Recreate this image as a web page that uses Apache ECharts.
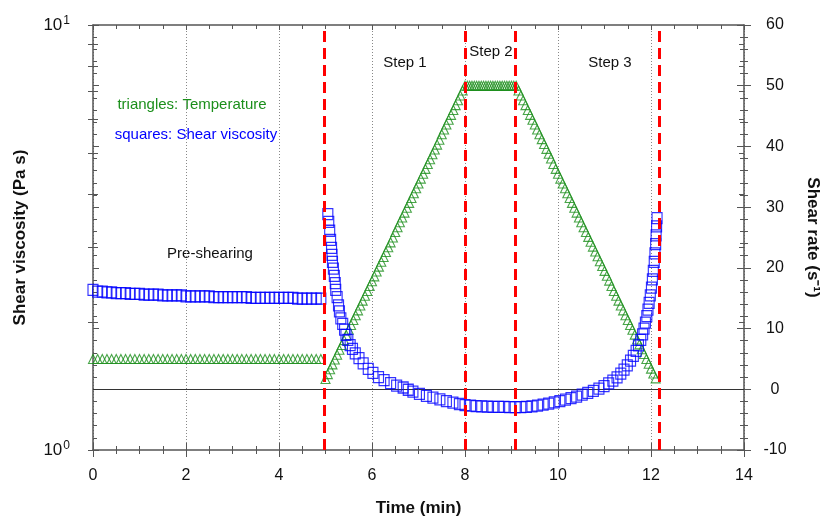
<!DOCTYPE html>
<html>
<head>
<meta charset="utf-8">
<title>Shear viscosity / shear rate vs time</title>
<script src="https://cdn.jsdelivr.net/npm/echarts@6/dist/echarts.min.js"></script>
<style>
    html, body { margin: 0; padding: 0; background: #fff; }
    #chart { width: 820px; height: 522px; }
</style>
</head>
<body>
<div id="chart"></div>
<script>
// [time (min), value]

// triangles (right axis, s^-1)
var tempPre = [
    [0.0, 5], [0.1, 5], [0.2, 5], [0.3, 5], [0.4, 5], [0.5, 5], [0.6, 5], [0.7, 5], [0.8, 5], [0.9, 5],
    [1.0, 5], [1.1, 5], [1.2, 5], [1.3, 5], [1.4, 5], [1.5, 5], [1.6, 5], [1.7, 5], [1.8, 5], [1.9, 5],
    [2.0, 5], [2.1, 5], [2.2, 5], [2.3, 5], [2.4, 5], [2.5, 5], [2.6, 5], [2.7, 5], [2.8, 5], [2.9, 5],
    [3.0, 5], [3.1, 5], [3.2, 5], [3.3, 5], [3.4, 5], [3.5, 5], [3.6, 5], [3.7, 5], [3.8, 5], [3.9, 5],
    [4.0, 5], [4.1, 5], [4.2, 5], [4.3, 5], [4.4, 5], [4.5, 5], [4.6, 5], [4.7, 5], [4.8, 5], [4.9, 5]
];
var tempUp = [
    [5.00, 1.7], [5.05, 2.5], [5.10, 3.3], [5.15, 4.1], [5.20, 4.9], [5.25, 5.7], [5.30, 6.5], [5.35, 7.3],
    [5.40, 8.1], [5.45, 8.9], [5.50, 9.8], [5.55, 10.6], [5.60, 11.4], [5.65, 12.2], [5.70, 13.0], [5.75, 13.8],
    [5.80, 14.6], [5.85, 15.4], [5.90, 16.2], [5.95, 17.0], [6.00, 17.8], [6.05, 18.6], [6.10, 19.4], [6.15, 20.2],
    [6.20, 21.0], [6.25, 21.8], [6.30, 22.6], [6.35, 23.4], [6.40, 24.2], [6.45, 25.0], [6.50, 25.9], [6.55, 26.7],
    [6.60, 27.5], [6.65, 28.3], [6.70, 29.1], [6.75, 29.9], [6.80, 30.7], [6.85, 31.5], [6.90, 32.3], [6.95, 33.1],
    [7.00, 33.9], [7.05, 34.7], [7.10, 35.5], [7.15, 36.3], [7.20, 37.1], [7.25, 37.9], [7.30, 38.7], [7.35, 39.5],
    [7.40, 40.3], [7.45, 41.1], [7.50, 42.0], [7.55, 42.8], [7.60, 43.6], [7.65, 44.4], [7.70, 45.2], [7.75, 46.0],
    [7.80, 46.8], [7.85, 47.6], [7.90, 48.4], [7.95, 49.2]
];
var tempHold = [
    [8.00, 50], [8.05, 50], [8.10, 50], [8.15, 50], [8.20, 50], [8.25, 50], [8.30, 50], [8.35, 50],
    [8.40, 50], [8.45, 50], [8.50, 50], [8.55, 50], [8.60, 50], [8.65, 50], [8.70, 50], [8.75, 50],
    [8.80, 50], [8.85, 50], [8.90, 50], [8.95, 50], [9.00, 50], [9.05, 50], [9.10, 50]
];
var tempDown = [
    [9.15, 49.2], [9.20, 48.4], [9.25, 47.6], [9.30, 46.8], [9.35, 46.0], [9.40, 45.2], [9.45, 44.4], [9.50, 43.6],
    [9.55, 42.8], [9.60, 42.0], [9.65, 41.2], [9.70, 40.4], [9.75, 39.6], [9.80, 38.8], [9.85, 38.0], [9.90, 37.1],
    [9.95, 36.3], [10.00, 35.5], [10.05, 34.7], [10.10, 33.9], [10.15, 33.1], [10.20, 32.3], [10.25, 31.5], [10.30, 30.7],
    [10.35, 29.9], [10.40, 29.1], [10.45, 28.3], [10.50, 27.5], [10.55, 26.7], [10.60, 25.9], [10.65, 25.1], [10.70, 24.3],
    [10.75, 23.5], [10.80, 22.7], [10.85, 21.9], [10.90, 21.1], [10.95, 20.3], [11.00, 19.5], [11.05, 18.7], [11.10, 17.9],
    [11.15, 17.0], [11.20, 16.2], [11.25, 15.4], [11.30, 14.6], [11.35, 13.8], [11.40, 13.0], [11.45, 12.2], [11.50, 11.4],
    [11.55, 10.6], [11.60, 9.8], [11.65, 9.0], [11.70, 8.2], [11.75, 7.4], [11.80, 6.6], [11.85, 5.8], [11.90, 5.0],
    [11.95, 4.2], [12.00, 3.4], [12.05, 2.6], [12.10, 1.8]
];

// squares (left log axis, Pa s)
var viscPre = [
    [0.0, 2.38], [0.1, 2.36], [0.2, 2.36], [0.3, 2.35], [0.4, 2.35], [0.5, 2.34], [0.6, 2.34], [0.7, 2.34], [0.8, 2.33], [0.9, 2.33],
    [1.0, 2.33], [1.1, 2.32], [1.2, 2.32], [1.3, 2.32], [1.4, 2.32], [1.5, 2.31], [1.6, 2.31], [1.7, 2.31], [1.8, 2.31], [1.9, 2.31],
    [2.0, 2.30], [2.1, 2.30], [2.2, 2.30], [2.3, 2.30], [2.4, 2.30], [2.5, 2.30], [2.6, 2.29], [2.7, 2.29], [2.8, 2.29], [2.9, 2.29],
    [3.0, 2.29], [3.1, 2.29], [3.2, 2.29], [3.3, 2.29], [3.4, 2.28], [3.5, 2.28], [3.6, 2.28], [3.7, 2.28], [3.8, 2.28], [3.9, 2.28],
    [4.0, 2.28], [4.1, 2.28], [4.2, 2.28], [4.3, 2.28], [4.4, 2.27], [4.5, 2.27], [4.6, 2.27], [4.7, 2.27], [4.8, 2.27], [4.9, 2.27]
];
var viscStep1 = [
    [5.05, 3.59], [5.07, 3.44], [5.09, 3.28], [5.11, 3.12], [5.13, 2.99], [5.14, 2.88], [5.15, 2.77], [5.17, 2.67],
    [5.19, 2.57], [5.21, 2.47], [5.22, 2.38], [5.25, 2.29], [5.28, 2.19], [5.30, 2.12], [5.33, 2.04], [5.37, 1.98],
    [5.41, 1.92], [5.44, 1.865], [5.48, 1.815], [5.53, 1.766], [5.58, 1.729], [5.64, 1.687], [5.72, 1.646], [5.81, 1.598],
    [5.92, 1.551], [6.02, 1.518], [6.14, 1.485], [6.26, 1.461], [6.40, 1.437], [6.53, 1.418], [6.67, 1.403], [6.78, 1.386],
    [6.88, 1.372], [7.02, 1.355], [7.17, 1.340], [7.31, 1.328], [7.46, 1.316], [7.60, 1.304], [7.74, 1.292], [7.88, 1.283]
];
var viscStep2 = [
    [8.00, 1.276], [8.12, 1.271], [8.24, 1.268], [8.36, 1.266], [8.48, 1.265], [8.60, 1.264], [8.72, 1.264],
    [8.84, 1.263], [8.96, 1.262], [9.08, 1.261]
];
var viscStep3 = [
    [9.20, 1.262], [9.32, 1.264], [9.44, 1.267], [9.56, 1.272], [9.68, 1.278], [9.80, 1.286], [9.92, 1.294], [10.04, 1.303],
    [10.16, 1.313], [10.28, 1.324], [10.40, 1.336], [10.52, 1.349], [10.64, 1.362], [10.76, 1.377], [10.88, 1.394], [10.99, 1.413],
    [11.09, 1.434], [11.18, 1.456], [11.27, 1.482], [11.35, 1.512], [11.42, 1.545], [11.49, 1.582], [11.56, 1.622], [11.62, 1.665],
    [11.68, 1.712], [11.73, 1.762], [11.78, 1.815], [11.82, 1.87], [11.85, 1.93], [11.88, 1.995], [11.91, 2.065], [11.935, 2.14],
    [11.96, 2.22], [11.985, 2.31], [12.01, 2.41], [12.03, 2.52], [12.05, 2.64], [12.07, 2.77], [12.085, 2.90], [12.10, 3.05],
    [12.11, 3.20], [12.12, 3.36], [12.13, 3.51]
];

// step boundaries (min) and tick values
var stepLines = [4.98, 8.0, 9.07, 12.17];
var logLabels = [1, 10];
var logMinorTicks = [2, 3, 4, 5, 6, 7, 8, 9];

var FONT = '"Liberation Sans", Arial, sans-serif';
var AXIS = '#555';

var chart = echarts.init(document.getElementById('chart'));

function tickAxisX(pos, inside, len) {
    return {
        type: 'value', position: pos, min: 0, max: 14, interval: 2,
        axisLine: {show: pos === 'top', onZero: false, lineStyle: {color: AXIS, width: 1.5}},
        axisTick: {inside: inside, length: len, lineStyle: {color: AXIS}},
        minorTick: {show: true, splitNumber: 4, length: 4, lineStyle: {color: AXIS}},
        axisLabel: {show: false},
        splitLine: {show: false}
    };
}

var option = {
    animation: false,
    grid: {left: 93, right: 76, top: 25, bottom: 72, containLabel: false, outerBoundsMode: 'none'},
    xAxis: [
        {
            type: 'value', position: 'bottom', min: 0, max: 14, interval: 2,
            axisLine: {onZero: false, lineStyle: {color: AXIS, width: 1.5}},
            axisTick: {length: 7, lineStyle: {color: AXIS}},
            minorTick: {show: true, splitNumber: 4, length: 4, lineStyle: {color: AXIS}},
            axisLabel: {fontSize: 16, color: '#111', margin: 18, fontFamily: FONT},
            splitLine: {show: true, lineStyle: {type: [1, 2], color: '#888'}},
            name: 'Time (min)', nameLocation: 'middle', nameGap: 50,
            nameTextStyle: {fontSize: 17, fontWeight: 'bold', color: '#111', fontFamily: FONT}
        },
        tickAxisX('bottom', true, 7),
        tickAxisX('top', true, 5)
    ],
    yAxis: [
        {
            type: 'log', logBase: 10, min: 1, max: 10, position: 'left',
            axisLine: {show: true, onZero: false, lineStyle: {color: AXIS, width: 1.5}},
            axisTick: {show: true, length: 5, lineStyle: {color: AXIS}},
            minorTick: {show: true, splitNumber: 9, length: 5, lineStyle: {color: AXIS}},
            axisLabel: {
                customValues: logLabels, margin: 23, color: '#111', fontFamily: FONT,
                formatter: function (v) {
                    return '{b|10}{s|' + Math.round(Math.log(v) / Math.LN10) + '}';
                },
                rich: {
                    b: {fontSize: 17, fontFamily: FONT, color: '#111'},
                    s: {fontSize: 12, fontFamily: FONT, color: '#111', padding: [0, 0, 9, 1]}
                }
            },
            splitLine: {show: false},
            name: 'Shear viscosity (Pa s)', nameLocation: 'middle', nameGap: 64, nameRotate: 90,
            nameTextStyle: {fontSize: 17, fontWeight: 'bold', color: '#111', fontFamily: FONT}
        },
        {
            type: 'log', logBase: 10, min: 1, max: 10, position: 'left',
            axisLine: {show: false, onZero: false},
            axisTick: {show: true, inside: true, length: 5, customValues: logMinorTicks, lineStyle: {color: AXIS}},
            axisLabel: {show: false},
            splitLine: {show: false}
        },
        {
            type: 'value', min: -10, max: 60, interval: 10, position: 'right',
            axisLine: {show: true, onZero: false, lineStyle: {color: AXIS, width: 1.5}},
            axisTick: {length: 7, lineStyle: {color: AXIS}},
            minorTick: {show: true, splitNumber: 5, length: 4, lineStyle: {color: AXIS}},
            axisLabel: {fontSize: 16, color: '#111', margin: 31, align: 'center', fontFamily: FONT},
            splitLine: {show: false},
            name: 'Shear rate (s\u207B\u00B9)', nameLocation: 'middle', nameGap: 60, nameRotate: -90,
            nameTextStyle: {fontSize: 17, fontWeight: 'bold', color: '#111', fontFamily: FONT}
        },
        {
            type: 'value', min: -10, max: 60, interval: 10, position: 'right',
            axisLine: {show: false, onZero: false},
            axisTick: {inside: true, length: 7, lineStyle: {color: AXIS}},
            minorTick: {show: true, splitNumber: 5, length: 4, lineStyle: {color: AXIS}},
            axisLabel: {show: false},
            splitLine: {show: false}
        },
        {
            type: 'value', min: -10, max: 60, interval: 10, position: 'left',
            axisLine: {show: false, onZero: false},
            axisTick: {inside: true, length: 6, lineStyle: {color: AXIS}},
            minorTick: {show: true, splitNumber: 5, length: 4, lineStyle: {color: AXIS}},
            axisLabel: {show: false},
            splitLine: {show: false}
        },
        {
            type: 'log', logBase: 10, min: 1, max: 10, position: 'right',
            axisLine: {show: false, onZero: false},
            axisTick: {show: true, inside: true, length: 5, customValues: logMinorTicks, lineStyle: {color: AXIS}},
            axisLabel: {show: false},
            splitLine: {show: false}
        }
    ],
    series: [
        {
            name: 'Temperature', type: 'scatter', xAxisIndex: 0, yAxisIndex: 2, z: 2,
            data: tempPre.concat(tempUp, tempHold, tempDown),
            symbol: 'triangle', symbolSize: 9,
            itemStyle: {color: 'rgba(0,0,0,0)', borderColor: '#1b8f1b', borderWidth: 1.1},
            markLine: {
                silent: true, symbol: 'none', z: 1, animation: false,
                label: {show: false},
                lineStyle: {color: '#333', width: 1, type: 'solid'},
                data: [{yAxis: 0}]
            }
        },
        {
            name: 'Shear viscosity', type: 'scatter', xAxisIndex: 0, yAxisIndex: 0, z: 3,
            data: viscPre.concat(viscStep1, viscStep2, viscStep3),
            symbol: 'rect', symbolSize: [10, 11],
            itemStyle: {color: 'rgba(0,0,0,0)', borderColor: '#0000ff', borderWidth: 1.2}
        },
        {
            name: 'steps', type: 'scatter', xAxisIndex: 0, yAxisIndex: 2, z: 4,
            data: [],
            markLine: {
                silent: true, symbol: 'none', z: 10, animation: false,
                label: {show: false},
                lineStyle: {color: '#ff0000', width: 3, type: [11, 6]},
                data: stepLines.map(function (x) { return {xAxis: x}; })
            }
        }
    ],
    graphic: [
        {type: 'text', x: 405, y: 63, style: {text: 'Step 1', fill: '#111', font: '15px ' + FONT, align: 'center', verticalAlign: 'middle'}},
        {type: 'text', x: 491, y: 52, style: {text: 'Step 2', fill: '#111', font: '15px ' + FONT, align: 'center', verticalAlign: 'middle'}},
        {type: 'text', x: 610, y: 63, style: {text: 'Step 3', fill: '#111', font: '15px ' + FONT, align: 'center', verticalAlign: 'middle'}},
        {type: 'text', x: 210, y: 254, style: {text: 'Pre-shearing', fill: '#111', font: '15px ' + FONT, align: 'center', verticalAlign: 'middle'}},
        {type: 'text', x: 192, y: 105, style: {text: 'triangles: Temperature', fill: '#1b8f1b', font: '15px ' + FONT, align: 'center', verticalAlign: 'middle'}},
        {type: 'text', x: 196, y: 135, style: {text: 'squares: Shear viscosity', fill: '#0000ff', font: '15px ' + FONT, align: 'center', verticalAlign: 'middle'}}
    ]
};

chart.setOption(option);
</script>
</body>
</html>
